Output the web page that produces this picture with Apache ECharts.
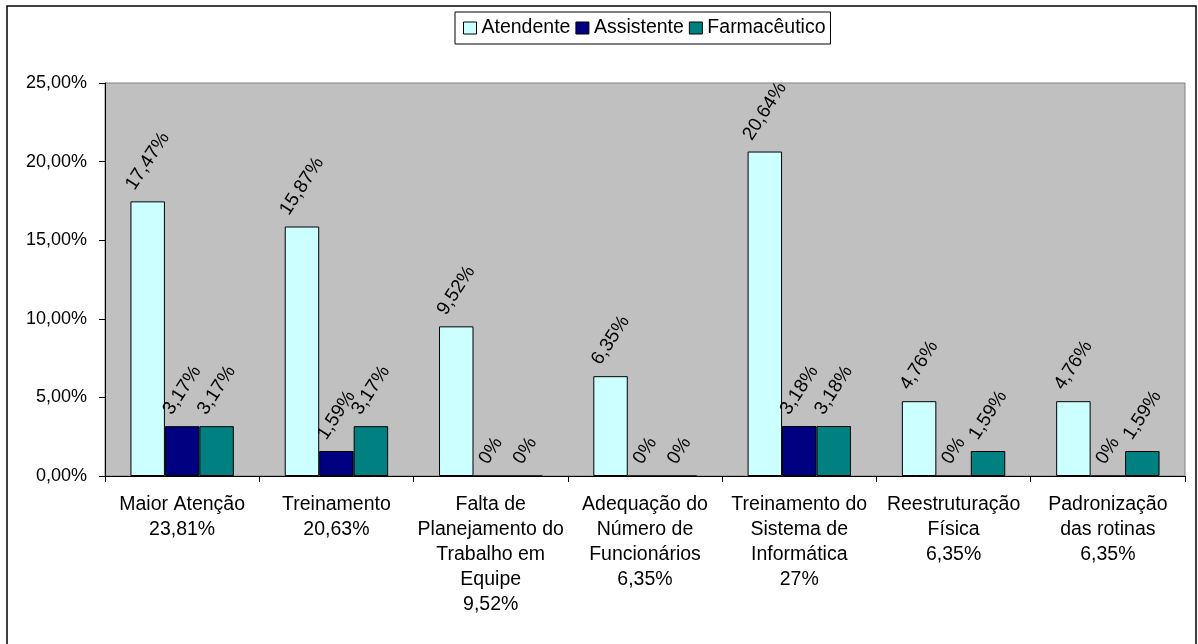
<!DOCTYPE html>
<html>
<head>
<meta charset="utf-8">
<script src="https://cdn.jsdelivr.net/npm/echarts@6/dist/echarts.min.js"></script>
<style>
  html, body { margin: 0; padding: 0; background: #fff; }
  #chart { width: 1198px; height: 644px; }
</style>
</head>
<body>
<div id="chart"></div>
<script>
// categorias (eixo X)
const categorias = [
    'Maior Atenção\n23,81%',
    'Treinamento\n20,63%',
    'Falta de\nPlanejamento do\nTrabalho em\nEquipe\n9,52%',
    'Adequação do\nNúmero de\nFuncionários\n6,35%',
    'Treinamento do\nSistema de\nInformática\n27%',
    'Reestruturação\nFísica\n6,35%',
    'Padronização\ndas rotinas\n6,35%'
];
// valores em %
const atendente = [17.47, 15.87, 9.52, 6.35, 20.64, 4.76, 4.76];
const assistente = [3.17, 1.59, 0, 0, 3.18, 0, 0];
const farmaceutico = [3.17, 3.17, 0, 0, 3.18, 1.59, 1.59];
const series_nomes = ['Atendente', 'Assistente', 'Farmacêutico'];
const yTicks = [0, 5, 10, 15, 20, 25];

const FONT = 'Liberation Sans, Arial, sans-serif';

function pct(v) {
    if (v === 0) return '0%';
    return v.toFixed(2).replace('.', ',') + '%';
}

function barSerie(name, data, color) {
    return {
        name: name,
        type: 'bar',
        data: data,
        barGap: '0%',
        barCategoryGap: '33%',
        itemStyle: { color: color, borderColor: '#000', borderWidth: 1 },
        label: {
            show: true,
            position: 'top',
            rotate: 57,
            align: 'center',
            verticalAlign: 'middle',
            color: '#000',
            fontFamily: FONT,
            fontSize: 19,
            formatter: function (p) { return pct(p.value); }
        },
        labelLayout: function (params) {
            // caixa do rótulo centrada sobre a barra (como no excel)
            const r = params.rect;
            const top = Math.min(r.y, r.y + r.height);
            return {
                x: r.x + r.width / 2,
                y: top - params.labelRect.height / 2 - 8
            };
        }
    };
}

let myChart = echarts.init(document.getElementById('chart'));
myChart.setOption({
    animation: false,
    textStyle: { fontFamily: FONT },
    graphic: [{
        type: 'rect',
        shape: { x: 7, y: 6, width: 1189, height: 650 },
        style: { fill: 'none', stroke: '#000', lineWidth: 1.5 },
        silent: true
    }],
    legend: {
        data: series_nomes,
        left: 455,
        top: 12,
        orient: 'horizontal',
        backgroundColor: '#fff',
        borderColor: '#000',
        borderWidth: 1,
        borderRadius: 0,
        padding: [6, 5, 6, 8],
        itemWidth: 13,
        itemHeight: 12,
        itemGap: 5,
        icon: 'rect',
        itemStyle: { borderColor: '#000', borderWidth: 1 },
        textStyle: { color: '#000', fontFamily: FONT, fontSize: 19.5 }
    },
    grid: {
        left: 105,
        right: 13,
        top: 83,
        bottom: 168,
        show: true,
        backgroundColor: '#C0C0C0',
        borderColor: '#808080',
        borderWidth: 1
    },
    xAxis: {
        type: 'category',
        data: categorias,
        axisLine: { lineStyle: { color: '#000', width: 1 } },
        axisTick: { show: true, length: 6, lineStyle: { color: '#000' } },
        axisLabel: {
            interval: 0,
            color: '#000',
            fontFamily: FONT,
            fontSize: 19.5,
            lineHeight: 25,
            margin: 16,
            align: 'center'
        }
    },
    yAxis: {
        type: 'value',
        min: yTicks[0],
        max: yTicks[yTicks.length - 1],
        interval: 5,
        axisLine: { show: true, lineStyle: { color: '#000', width: 1 } },
        axisTick: { show: true, length: 6, lineStyle: { color: '#000' } },
        splitLine: { show: false },
        axisLabel: {
            color: '#000',
            fontFamily: FONT,
            fontSize: 18,
            margin: 18,
            formatter: function (v) { return v.toFixed(2).replace('.', ',') + '%'; }
        }
    },
    series: [
        barSerie(series_nomes[0], atendente, '#CCFFFF'),
        barSerie(series_nomes[1], assistente, '#000080'),
        barSerie(series_nomes[2], farmaceutico, '#008080')
    ]
});
</script>
</body>
</html>
